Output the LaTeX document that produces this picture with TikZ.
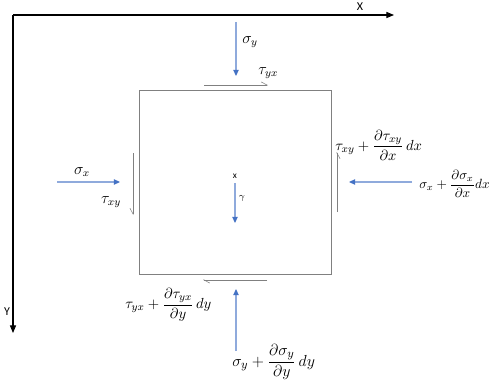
\documentclass[tikz,border=0pt]{standalone}
\usepackage{amsmath}
\usepackage{fontspec}
\newfontfamily\axfont{Carlito}
\usetikzlibrary{arrows.meta, positioning}

\begin{document}
\begin{tikzpicture}[
    x=0.75pt, y=-0.75pt,
    axis/.style={-{Triangle[length=2mm, width=1.6mm]}, thick, black},
    force/.style={color={rgb,255:red,143;green,170;blue,220}, line width=0.8pt,
      arrows={-{Triangle[length=1.6mm, width=1.4mm, color={rgb,255:red,68;green,114;blue,196}]}}},
    shear/.style={gray, thin},
    lbl/.style={inner sep=0pt, font=\fontsize{11.5}{13}\selectfont},
    frm/.style={inner sep=0pt, anchor=west, font=\fontsize{11}{13}\selectfont},
    ax/.style={inner sep=0pt, font=\axfont\small}
  ]
    \useasboundingbox (0,0) rectangle (493,385);
    % axes
    \coordinate (orig) at (13,15);
    \coordinate (xend) at (394,15);
    \coordinate (yend) at (13,333);
    \draw[axis] (orig) -- (xend);
    \draw[axis] (orig) -- (yend);
    \node[ax] (xlab) at (360,7) {X};
    \node[ax] (ylab) at (7,312) {Y};
    % element
    \node[draw=gray, minimum width=144pt, minimum height=138pt, inner sep=0pt] (elem) at (235,182) {};
    % top
    \coordinate (sytop) at (236,22);
    \coordinate (sybot) at (236,76);
    \draw[force] (sytop) -- (sybot);
    \node[lbl, anchor=west] (sy) at (242,42) {$\sigma_y$};
    \coordinate (tta) at (204,85);
    \coordinate (ttb) at (268,85);
    \draw[shear, -{Straight Barb[harpoon, length=1.5mm, width=1.6mm]}] (tta) -- (ttb);
    \node[lbl, anchor=west] (tyx) at (258,73) {$\tau_{yx}$};
    % left
    \coordinate (sxa) at (57,182);
    \coordinate (sxb) at (120,182);
    \draw[force] (sxa) -- (sxb);
    \node[lbl] (sx) at (82,172) {$\sigma_x$};
    \coordinate (tla) at (133,153);
    \coordinate (tlb) at (133,215);
    \draw[shear, -{Straight Barb[harpoon, swap, length=1.5mm, width=1.6mm]}] (tla) -- (tlb);
    \node[lbl] (txy) at (111,202) {$\tau_{xy}$};
    % centre
    \node[ax, font=\axfont\scriptsize] (cen) at (235,176) {x};
    \coordinate (ga) at (235,183);
    \coordinate (gb) at (235,223);
    \draw[force] (ga) -- (gb);
    \node[lbl, font=\scriptsize] (gam) at (242,198) {$\gamma$};
    % right
    \coordinate (tra) at (337,212);
    \coordinate (trb) at (337,152);
    \draw[shear, -{Straight Barb[harpoon, swap, length=1.5mm, width=1.6mm]}] (tra) -- (trb);
    \node[frm] (txyd) at (335,145) {$\tau_{xy}+\dfrac{\partial\tau_{xy}}{\partial x}\,dx$};
    \coordinate (sra) at (412,182);
    \coordinate (srb) at (349,182);
    \draw[force] (sra) -- (srb);
    \node[frm, font=\fontsize{10}{12}\selectfont] (sxd) at (419,184) {$\sigma_x+\dfrac{\partial\sigma_x}{\partial x}dx$};
    % bottom
    \coordinate (tba) at (267,280);
    \coordinate (tbb) at (203,280);
    \draw[shear, -{Straight Barb[harpoon, length=1.5mm, width=1.6mm]}] (tba) -- (tbb);
    \node[frm] (tyxd) at (125,305) {$\tau_{yx}+\dfrac{\partial\tau_{yx}}{\partial y}\,dy$};
    \coordinate (sba) at (236,351);
    \coordinate (sbb) at (236,289);
    \draw[force] (sba) -- (sbb);
    \node[frm, font=\fontsize{13}{15}\selectfont] (syd) at (232,362) {$\sigma_y+\dfrac{\partial\sigma_y}{\partial y}\,dy$};
  \end{tikzpicture}
\end{document}
